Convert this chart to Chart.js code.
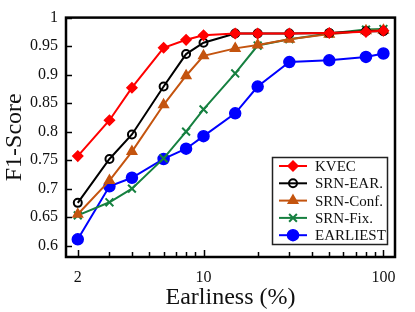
<!DOCTYPE html>
<html lang="en">
  <head>
    <meta charset="UTF-8" />
    <title>F1-Score vs Earliness</title>
    <script src="https://cdn.jsdelivr.net/npm/chart.js"></script>
    <style>
      body {
        margin: 0;
        background: white;
      }
    </style>
  </head>
  <body>
    <canvas id="chart" width="415" height="312"></canvas>

    <script>
      const earliness = [2, 3, 4, 6, 8, 10, 15, 20, 30, 50, 80, 100];

      const kvec = [0.757, 0.82, 0.877, 0.947, 0.961, 0.969, 0.972, 0.972, 0.972, 0.973, 0.975, 0.977];
      const srnEar = [0.675, 0.752, 0.795, 0.879, 0.936, 0.956, 0.972, 0.972, 0.972, 0.973, 0.976, 0.976];
      const srnConf = [0.655, 0.714, 0.765, 0.847, 0.898, 0.933, 0.946, 0.952, 0.962, 0.971, 0.977, 0.978];
      const srnFix = [0.653, 0.676, 0.7, 0.753, 0.8, 0.839, 0.902, 0.951, 0.962, 0.972, 0.979, 0.98];
      const earliest = [0.611, 0.704, 0.719, 0.752, 0.77, 0.792, 0.832, 0.879, 0.922, 0.925, 0.931, 0.937];

      const xTicks = [2, 3, 4, 5, 6, 7, 8, 9, 10, 20, 30, 40, 50, 60, 70, 80, 90, 100];
      const xLabels = [2, 10, 100];
      const yTicks = [0.6, 0.65, 0.7, 0.75, 0.8, 0.85, 0.9, 0.95, 1];

      const serif = "'Liberation Serif', 'DejaVu Serif', serif";

      const series = (label, values, color, style, radius, fill) => ({
        label,
        data: earliness.map((x, i) => ({ x, y: values[i] })),
        borderColor: color,
        backgroundColor: color,
        borderWidth: 2,
        pointStyle: style,
        pointRadius: radius,
        pointBackgroundColor: fill,
        pointBorderColor: color,
        pointBorderWidth: style === "crossRot" || fill === "rgba(255,255,255,0)" ? 2 : 1.5,
        tension: 0,
      });

      // frame, inward ticks and legend box
      const decor = {
        id: "decor",
        afterDatasetsDraw(chart) {
          const { ctx, chartArea: a, scales } = chart;
          ctx.save();
          ctx.strokeStyle = "#000";
          ctx.lineWidth = 1.5;
          ctx.beginPath();
          xTicks.forEach((v) => {
            const px = Math.round(scales.x.getPixelForValue(v)) + 0.5;
            const len = xLabels.includes(v) ? 7 : 5;
            ctx.moveTo(px, a.bottom);
            ctx.lineTo(px, a.bottom - len);
          });
          yTicks.forEach((v) => {
            const py = Math.round(scales.y.getPixelForValue(v)) + 0.5;
            ctx.moveTo(a.left, py);
            ctx.lineTo(a.left + 6, py);
          });
          ctx.stroke();

          ctx.lineWidth = 2.5;
          ctx.strokeRect(a.left, a.top, a.right - a.left, a.bottom - a.top);

          // legend
          const lx = 272, ly = 157, lw = 115, lh = 87;
          ctx.fillStyle = "#fff";
          ctx.fillRect(lx, ly, lw, lh);
          ctx.lineWidth = 1.5;
          ctx.strokeStyle = "#222";
          ctx.strokeRect(lx + 0.5, ly + 0.5, lw, lh);

          ctx.font = "15px " + serif;
          ctx.textBaseline = "middle";
          chart.data.datasets.forEach((ds, i) => {
            const y = ly + 9 + i * 17.3;
            ctx.strokeStyle = ds.borderColor;
            ctx.lineWidth = 2;
            ctx.beginPath();
            ctx.moveTo(lx + 7, y);
            ctx.lineTo(lx + 35, y);
            ctx.stroke();
            ctx.fillStyle = ds.pointBackgroundColor;
            ctx.strokeStyle = ds.pointBorderColor;
            ctx.lineWidth = ds.pointBorderWidth;
            Chart.helpers.drawPoint(
              ctx,
              { pointStyle: ds.pointStyle, radius: ds.pointRadius, borderWidth: ds.pointBorderWidth, rotation: 0 },
              lx + 21,
              y
            );
            ctx.fillStyle = "#111";
            ctx.fillText(ds.label, lx + 43, y + 1);
          });
          ctx.restore();
        },
      };

      new Chart(document.getElementById("chart"), {
        type: "line",
        data: {
          datasets: [
            series("KVEC", kvec, "#ff0000", "rectRot", 5, "#ff0000"),
            series("SRN-EAR.", srnEar, "#000000", "circle", 4, "rgba(255,255,255,0)"),
            series("SRN-Conf.", srnConf, "#c4540f", "triangle", 5.5, "#c4540f"),
            series("SRN-Fix.", srnFix, "#168040", "crossRot", 5.5, "#168040"),
            series("EARLIEST", earliest, "#0000ff", "circle", 5.5, "#0000ff"),
          ],
        },
        options: {
          responsive: false,
          animation: false,
          layout: { padding: { top: 17, right: 20, left: 0, bottom: 0 } },
          plugins: {
            legend: { display: false },
            tooltip: { enabled: false },
          },
          scales: {
            x: {
              type: "logarithmic",
              min: 1.72,
              max: 116,
              afterBuildTicks: (s) => {
                s.ticks = xTicks.map((v) => ({ value: v }));
              },
              afterFit: (s) => {
                s.height = 55;
              },
              grid: { display: false, drawTicks: false },
              border: { display: false },
              ticks: {
                autoSkip: false,
                maxRotation: 0,
                padding: 11,
                color: "#111",
                font: { family: serif, size: 16 },
                callback: (v) => (xLabels.includes(v) ? String(v) : ""),
              },
              title: {
                display: true,
                text: "Earliness (%)",
                color: "#111",
                font: { family: serif, size: 24 },
                padding: { top: 0, bottom: 0 },
              },
            },
            y: {
              min: 0.58,
              max: 1,
              afterBuildTicks: (s) => {
                s.ticks = yTicks.map((v) => ({ value: v }));
              },
              afterFit: (s) => {
                s.width = 66;
              },
              grid: { display: false, drawTicks: false },
              border: { display: false },
              ticks: {
                padding: 8,
                color: "#111",
                font: { family: serif, size: 16 },
                callback: (v) => String(Math.round(v * 100) / 100),
              },
              title: {
                display: true,
                text: "F1-Score",
                color: "#111",
                font: { family: serif, size: 24 },
                padding: { top: 0, bottom: 0 },
              },
            },
          },
        },
        plugins: [decor],
      });
    </script>
  </body>
</html>
